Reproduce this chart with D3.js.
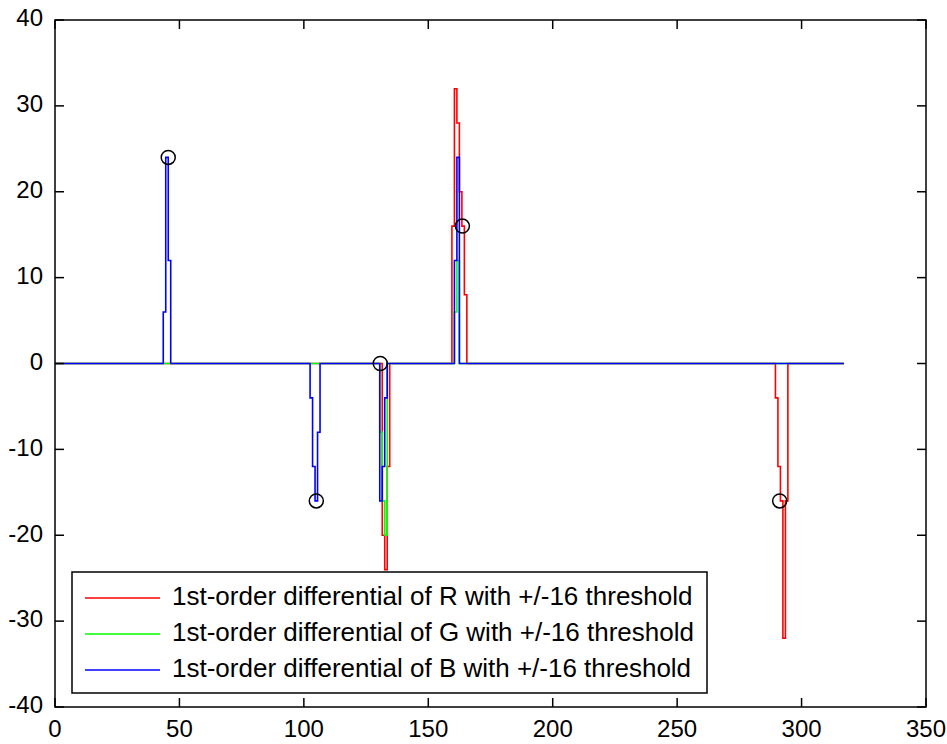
<!DOCTYPE html>
<html>
<head>
<meta charset="utf-8">
<script src="https://cdn.jsdelivr.net/npm/d3@7"></script>
<style>
  body { margin: 0; background: #fff; }
  text { font-family: "Liberation Sans", Arial, sans-serif; fill: #000; }
</style>
</head>
<body>
<div id="chart"></div>
<script>
// samples run 0..lastIndex, zero except where listed
var lastIndex = 317;

// [index, value]
var redPts = [[132,-20],[133,-24],[134,-12],
              [160,16],[161,32],[162,28],[163,20],[164,16],[165,8],
              [290,-4],[291,-12],[292,-16],[293,-32],[294,-16]];
var greenPts = [[131,-8],[132,-16],[133,-20],[161,6],[162,12]];
var bluePts = [[44,6],[45,24],[46,12],
               [103,-4],[104,-12],[105,-16],[106,-8],
               [131,-16],[132,-12],[133,-4],
               [161,12],[162,24]];

// circled points
var markX = [45.5, 105, 130.7, 163.7, 291.2];
var markY = [24, -16, 0, 16, -16];

var xTicks = [0, 50, 100, 150, 200, 250, 300, 350];
var yTicks = [-40, -30, -20, -10, 0, 10, 20, 30, 40];

var legendLabels = [
	"1st-order differential of R with +/-16 threshold",
	"1st-order differential of G with +/-16 threshold",
	"1st-order differential of B with +/-16 threshold"
];
var colors = ["#ff0000", "#00ff00", "#0000ff"];

function fullSeries(pts){
	var vals = d3.range(lastIndex + 1).map(function(){ return 0; });
	pts.forEach(function(p){ vals[p[0]] = p[1]; });
	return vals.map(function(v, i){ return [i, v]; });
}
var series = [fullSeries(redPts), fullSeries(greenPts), fullSeries(bluePts)];

var width = 947, height = 744;
var plot = { left: 55, right: 926, top: 20, bottom: 707 };

var svg = d3.select("#chart").append("svg")
	.attr("width", width)
	.attr("height", height);

var x = d3.scaleLinear().domain([0, 350]).range([plot.left, plot.right]);
var y = d3.scaleLinear().domain([-40, 40]).range([plot.bottom, plot.top]);

var line = d3.line()
	.x(function(d){ return x(d[0]); })
	.y(function(d){ return y(d[1]); })
	.curve(d3.curveStep);

svg.selectAll(".series").data(series)
	.enter().append("path")
		.attr("class", "series")
		.attr("d", line)
		.attr("fill", "none")
		.attr("stroke", function(d, i){ return colors[i]; })
		.attr("stroke-width", 1.6);

svg.selectAll(".mark").data(markX)
	.enter().append("circle")
		.attr("class", "mark")
		.attr("cx", function(d){ return x(d); })
		.attr("cy", function(d, i){ return y(markY[i]); })
		.attr("r", 7)
		.attr("fill", "none")
		.attr("stroke", "#000")
		.attr("stroke-width", 1.5);

// box with ticks on all four sides, pointing inward
var tickLen = 9;
var axes = svg.append("g").attr("stroke", "#000").attr("stroke-width", 1.5);
axes.append("rect")
	.attr("x", plot.left).attr("y", plot.top)
	.attr("width", plot.right - plot.left)
	.attr("height", plot.bottom - plot.top)
	.attr("fill", "none");

xTicks.forEach(function(t){
	axes.append("line").attr("x1", x(t)).attr("x2", x(t))
		.attr("y1", plot.bottom).attr("y2", plot.bottom - tickLen);
	axes.append("line").attr("x1", x(t)).attr("x2", x(t))
		.attr("y1", plot.top).attr("y2", plot.top + tickLen);
});
yTicks.forEach(function(t){
	axes.append("line").attr("x1", plot.left).attr("x2", plot.left + tickLen)
		.attr("y1", y(t)).attr("y2", y(t));
	axes.append("line").attr("x1", plot.right).attr("x2", plot.right - tickLen)
		.attr("y1", y(t)).attr("y2", y(t));
});

svg.selectAll(".xlab").data(xTicks)
	.enter().append("text")
		.attr("class", "xlab")
		.attr("x", function(d){ return x(d); })
		.attr("y", plot.bottom + 24)
		.attr("text-anchor", "middle")
		.attr("dominant-baseline", "middle")
		.style("font-size", "24px")
		.text(function(d){ return d; });

svg.selectAll(".ylab").data(yTicks)
	.enter().append("text")
		.attr("class", "ylab")
		.attr("x", plot.left - 12)
		.attr("y", function(d){ return y(d); })
		.attr("text-anchor", "end")
		.attr("dominant-baseline", "middle")
		.style("font-size", "24px")
		.text(function(d){ return d; });

// legend
var legend = svg.append("g").attr("transform", "translate(72,572)");
legend.append("rect")
	.attr("width", 635).attr("height", 121)
	.attr("fill", "#fff")
	.attr("stroke", "#000")
	.attr("stroke-width", 1.5);

var rows = legend.selectAll(".row").data(legendLabels)
	.enter().append("g")
		.attr("class", "row")
		.attr("transform", function(d, i){ return "translate(0," + (26 + i * 36) + ")"; });
rows.append("line")
	.attr("x1", 13).attr("x2", 88)
	.attr("stroke", function(d, i){ return colors[i]; })
	.attr("stroke-width", 1.6);
rows.append("text")
	.attr("x", 100)
	.attr("dominant-baseline", "middle")
	.style("font-size", "26px")
	.text(function(d){ return d; });
</script>
</body>
</html>
